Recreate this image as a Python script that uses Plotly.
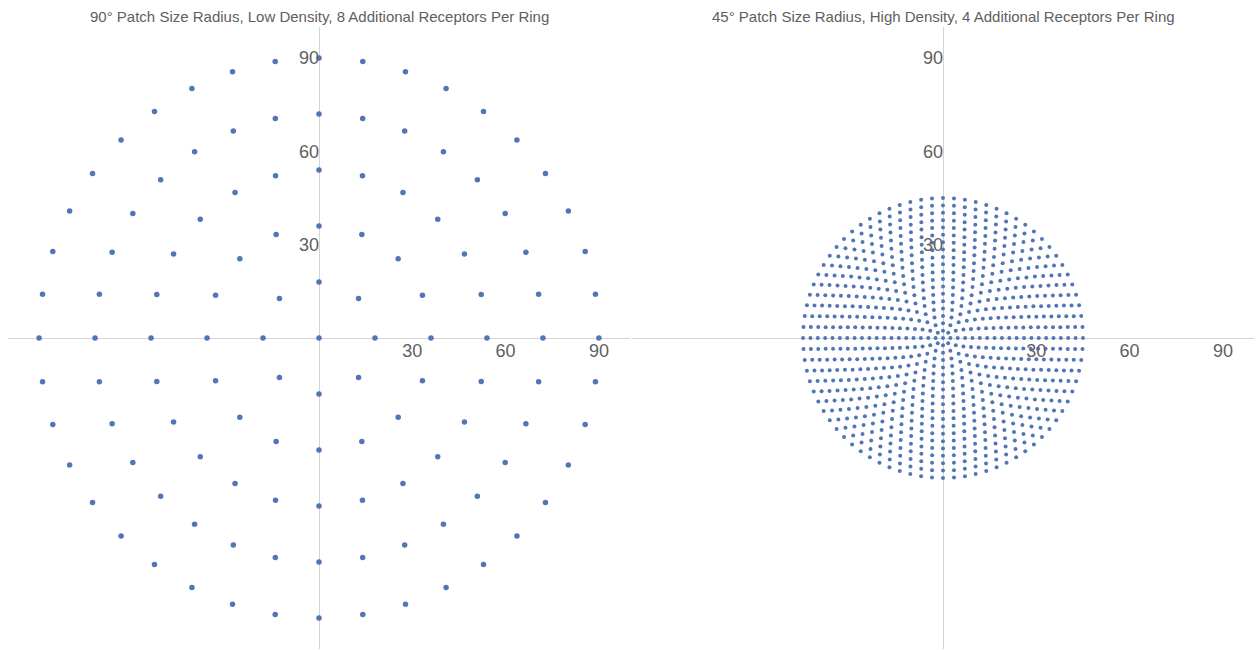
import numpy as np
import plotly.graph_objects as go

# Receptor layouts: each ring holds evenly spaced receptors starting at 0°,
# plus one receptor at the centre of the patch.
left_title = "90° Patch Size Radius, Low Density, 8 Additional Receptors Per Ring"
left_ring_radii = [18, 36, 54, 72, 90]
left_ring_counts = [8, 16, 24, 32, 40]

right_title = "45° Patch Size Radius, High Density, 4 Additional Receptors Per Ring"
right_ring_radii = [2.37, 4.74, 7.11, 9.47, 11.84, 14.21, 16.58, 18.95, 21.32, 23.68,
                    26.05, 28.42, 30.79, 33.16, 35.53, 37.89, 40.26, 42.63, 45.0]
right_ring_counts = [8, 12, 16, 20, 24, 28, 32, 36, 40, 44,
                     48, 52, 56, 60, 64, 68, 72, 76, 80]

tick_vals = [30, 60, 90]
axis_range = [-100, 100]

DOT = "#5076b6"
AXIS = "#d4d4d4"
TEXT = "#606060"


def receptor_points(radii, counts):
    xs, ys = [0.0], [0.0]
    for r, n in zip(radii, counts):
        theta = 2 * np.pi * np.arange(n) / n
        xs.extend(r * np.cos(theta))
        ys.extend(r * np.sin(theta))
    return xs, ys


lx, ly = receptor_points(left_ring_radii, left_ring_counts)
rx, ry = receptor_points(right_ring_radii, right_ring_counts)

fig = go.Figure()
fig.add_trace(go.Scatter(x=lx, y=ly, mode="markers", xaxis="x", yaxis="y",
                         marker=dict(color=DOT, size=5.5, line=dict(width=0)),
                         hoverinfo="x+y"))
fig.add_trace(go.Scatter(x=rx, y=ry, mode="markers", xaxis="x2", yaxis="y2",
                         marker=dict(color=DOT, size=4, line=dict(width=0)),
                         hoverinfo="x+y"))

W, H = 1258, 650
ml, mr, mt, mb = 8, 4, 27, 1
pw = W - ml - mr
d1 = [0, 622 / pw]
d2 = [624 / pw, 1]

font_family = "Liberation Sans, Arial, sans-serif"
tick_font = dict(family=font_family, size=18, color=TEXT)
common = dict(range=axis_range, showgrid=False, showline=False, zeroline=True,
              zerolinecolor=AXIS, zerolinewidth=1, tickvals=tick_vals,
              ticks="", tickfont=tick_font, fixedrange=True)

title_font = dict(family=font_family, size=15, color=TEXT)

fig.update_layout(
    width=W, height=H,
    margin=dict(l=ml, r=mr, t=mt, b=mb),
    paper_bgcolor="white", plot_bgcolor="white",
    showlegend=False,
    xaxis=dict(domain=d1, anchor="free", position=0.5, **common),
    yaxis=dict(domain=[0, 1], anchor="free", position=(d1[0] + d1[1]) / 2, **common),
    xaxis2=dict(domain=d2, anchor="free", position=0.5, **common),
    yaxis2=dict(domain=[0, 1], anchor="free", position=(d2[0] + d2[1]) / 2, **common),
    annotations=[
        dict(text=left_title, x=(d1[0] + d1[1]) / 2, y=1, xref="paper", yref="paper",
             xanchor="center", yanchor="bottom", yshift=0, showarrow=False,
             font=title_font),
        dict(text=right_title, x=(d2[0] + d2[1]) / 2, y=1, xref="paper", yref="paper",
             xanchor="center", yanchor="bottom", yshift=0, showarrow=False,
             font=title_font),
    ],
)

fig.write_html("out.html")
